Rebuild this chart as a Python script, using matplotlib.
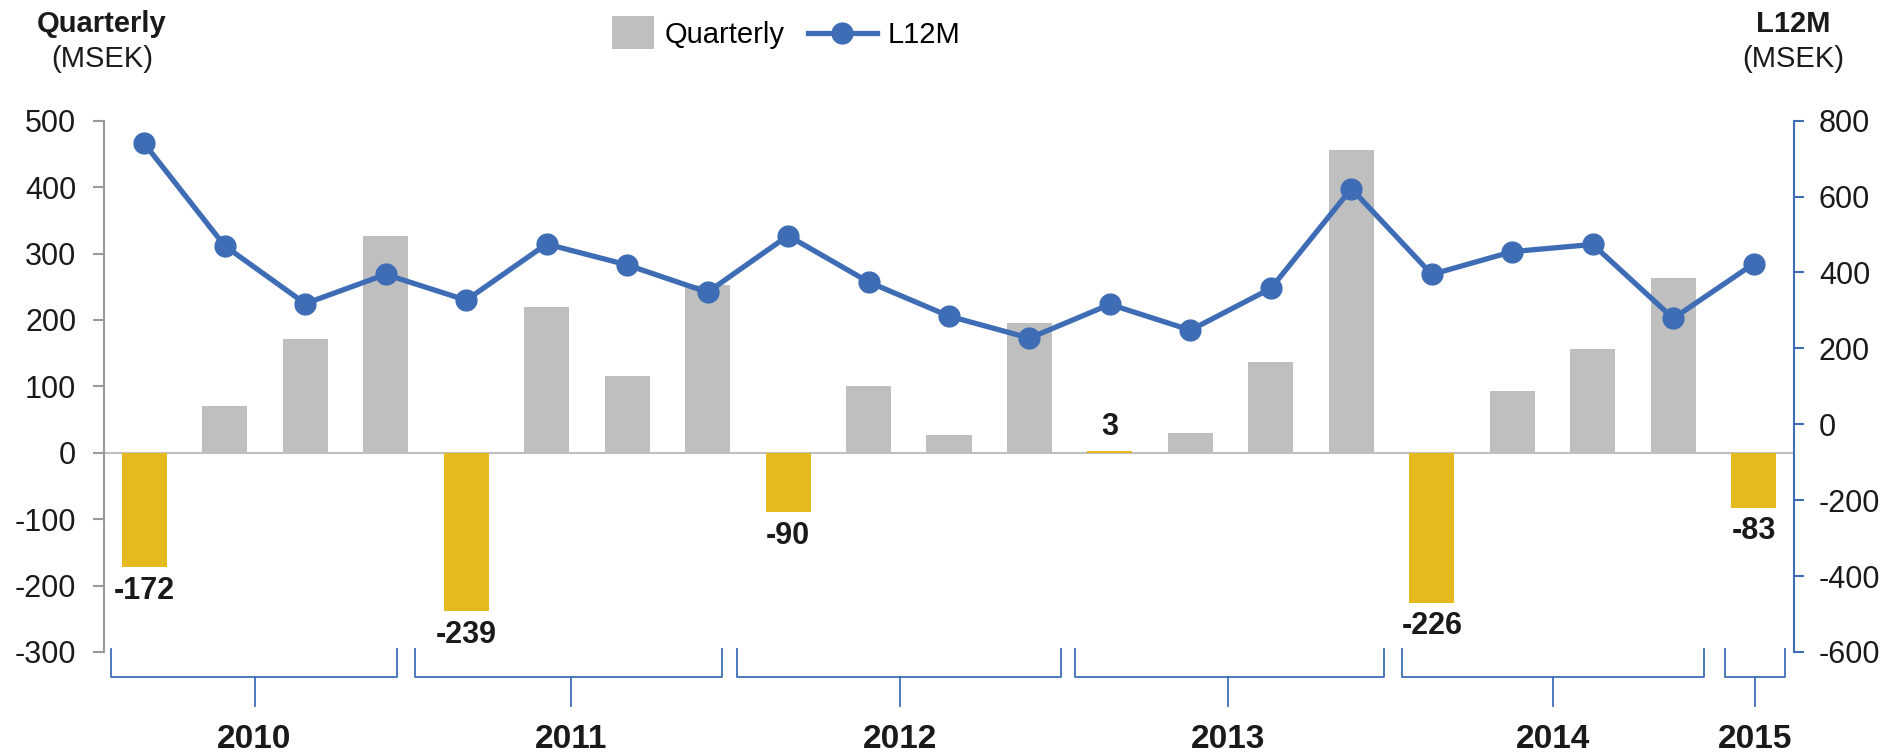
import matplotlib
matplotlib.use('Agg')
import matplotlib.pyplot as plt
import matplotlib.transforms as mtransforms
from matplotlib.patches import Patch, Rectangle
from matplotlib.lines import Line2D
from matplotlib.legend_handler import HandlerPatch

plt.rcParams['font.family'] = ['Liberation Sans', 'DejaVu Sans']
plt.rcParams['axes.unicode_minus'] = False

# data (MSEK)
quarters = ['2010 Q1', '2010 Q2', '2010 Q3', '2010 Q4',
            '2011 Q1', '2011 Q2', '2011 Q3', '2011 Q4',
            '2012 Q1', '2012 Q2', '2012 Q3', '2012 Q4',
            '2013 Q1', '2013 Q2', '2013 Q3', '2013 Q4',
            '2014 Q1', '2014 Q2', '2014 Q3', '2014 Q4',
            '2015 Q1']
quarterly = [-172, 70, 172, 326,
             -239, 219, 116, 252,
             -90, 100, 27, 195,
             3, 30, 136, 456,
             -226, 93, 156, 263,
             -83]
l12m = [740, 470, 318, 395,
        327, 475, 420, 348,
        497, 375, 285, 227,
        316, 248, 358, 621,
        395, 455, 474, 279,
        423]
years = ['2010', '2011', '2012', '2013', '2014', '2015']

# bracket extents under the axis, in category units (start, end, stem)
brackets = [(-0.41, 3.14, 1.37), (3.37, 7.18, 5.30), (7.37, 11.39, 9.39),
            (11.56, 15.40, 13.47), (15.63, 19.38, 17.51), (19.64, 20.39, 20.02)]

GRAY = '#BFBFBF'
YELLOW = '#E4BA1E'
BLUE = '#3E6DB5'
TXT = '#1a1a1a'

fig = plt.figure(figsize=(18.85, 7.56), dpi=100)
ax = fig.add_axes([0.0552, 0.1377, 0.8965, 0.7026])
ax2 = ax.twinx()

x = list(range(len(quarters)))
colors = [YELLOW if q.endswith('Q1') else GRAY for q in quarters]
ax.axhline(0, color=GRAY, lw=1.5, zorder=1)
ax.bar(x, quarterly, width=0.56, color=colors, zorder=2)

for i, q in enumerate(quarters):
    if q.endswith('Q1'):
        v = quarterly[i]
        off = 17 if v > 0 else -17
        ax.annotate(str(v), (i, v), xytext=(0, off), textcoords='offset points',
                    ha='center', va='center', fontsize=22, fontweight='bold', color=TXT)

ax2.plot(x, l12m, color=BLUE, lw=3.8, marker='o', ms=15, zorder=3)

ax.set_xlim(-0.5, 20.5)
ax.set_ylim(-300, 500)
ax.set_yticks(range(-300, 501, 100))
ax2.set_ylim(-600, 800)
ax2.set_yticks(range(-600, 801, 200))
ax.set_xticks([])

for s in ['top', 'bottom', 'right']:
    ax.spines[s].set_visible(False)
for s in ['top', 'bottom', 'left']:
    ax2.spines[s].set_visible(False)
ax.spines['left'].set_color('#9a9a9a')
ax.spines['left'].set_linewidth(1.5)
ax2.spines['right'].set_color(BLUE)
ax2.spines['right'].set_linewidth(1.5)
ax.tick_params(axis='y', length=8, width=1.5, color='#9a9a9a', pad=12,
               labelsize=22, labelcolor=TXT)
ax2.tick_params(axis='y', length=7, width=1.5, color=BLUE, pad=11,
                labelsize=22, labelcolor=TXT)

# year brackets below the plot
trans = mtransforms.blended_transform_factory(ax.transData, ax.transAxes)
for (x0, x1, xm), yr in zip(brackets, years):
    ax.plot([x0, x0, x1, x1], [0.005, -0.048, -0.048, 0.005], color=BLUE, lw=1.3,
            transform=trans, clip_on=False)
    ax.plot([xm, xm], [-0.048, -0.102], color=BLUE, lw=1.3,
            transform=trans, clip_on=False)
    ax.text(xm, -0.164, yr, transform=trans, ha='center', va='center',
            fontsize=24, fontweight='bold', color=TXT)

# axis titles
fig.text(102 / 1885, 1 - 24 / 756, 'Quarterly', ha='center', va='center',
         fontsize=21, fontweight='bold', color=TXT)
fig.text(102 / 1885, 1 - 59 / 756, '(MSEK)', ha='center', va='center',
         fontsize=21, color=TXT)
fig.text(1793 / 1885, 1 - 24 / 756, 'L12M', ha='center', va='center',
         fontsize=21, fontweight='bold', color=TXT)
fig.text(1793 / 1885, 1 - 59 / 756, '(MSEK)', ha='center', va='center',
         fontsize=21, color=TXT)


def narrow_patch(legend, orig_handle, xdescent, ydescent, width, height, fontsize):
    return Rectangle((-xdescent + 0.39 * width, -ydescent - 0.3 * height),
                     0.61 * width, 1.6 * height)


handles = [Patch(facecolor=GRAY, label='Quarterly'),
           Line2D([], [], color=BLUE, lw=3.8, marker='o', ms=15, label='L12M')]
fig.legend(handles=handles, loc='center left', bbox_to_anchor=(585 / 1885, 1 - 35 / 756),
           ncol=2, frameon=False, fontsize=21, handlelength=2.36, handletextpad=0.38,
           columnspacing=0.79, borderpad=0, borderaxespad=0,
           handler_map={Patch: HandlerPatch(patch_func=narrow_patch)})

fig.savefig('out.png', dpi=100)
